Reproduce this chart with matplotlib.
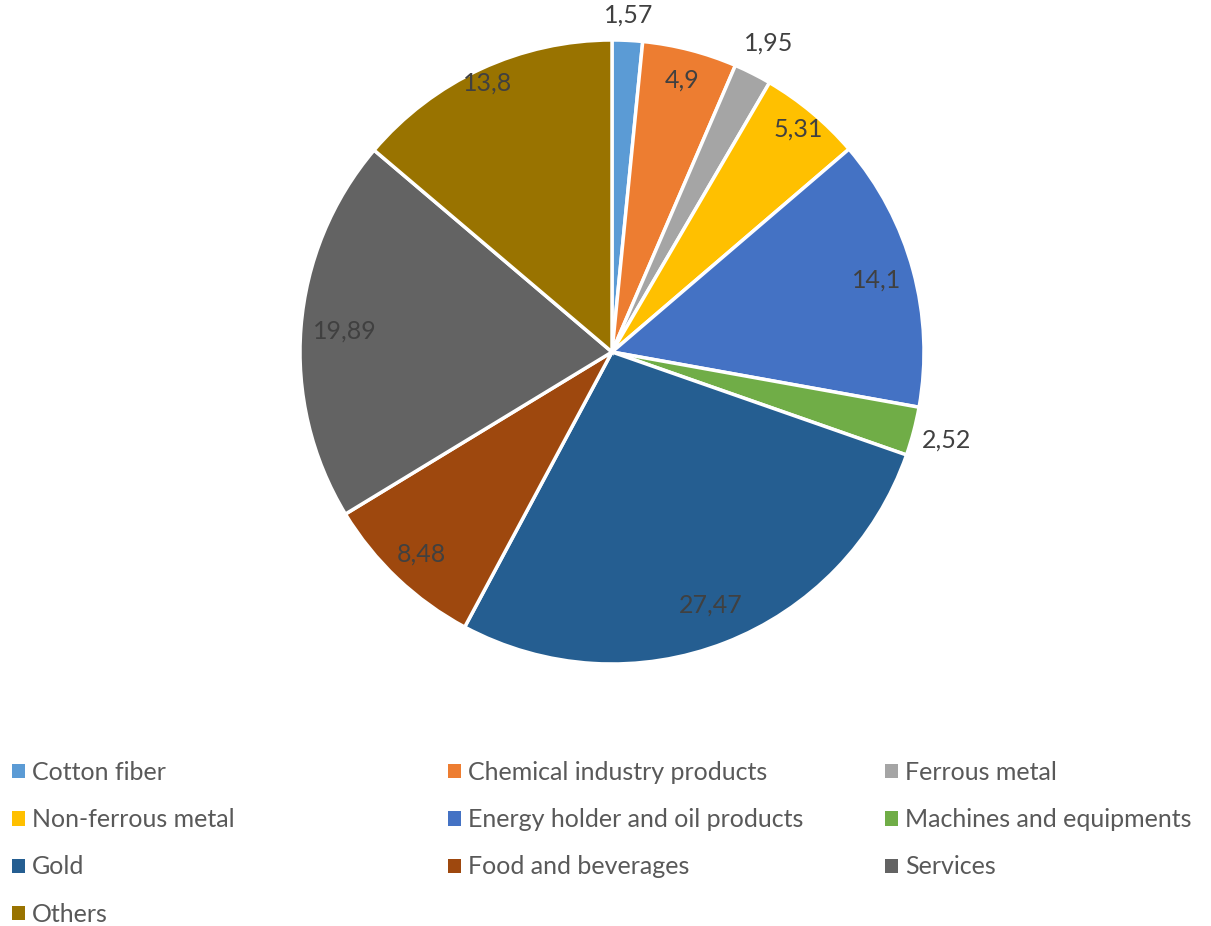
import numpy as np
import matplotlib.pyplot as plt
from matplotlib.patches import Patch

plt.rcParams['font.family'] = ['Lato', 'DejaVu Sans']

categories = ["Cotton fiber", "Chemical industry products", "Ferrous metal",
              "Non-ferrous metal", "Energy holder and oil products",
              "Machines and equipments", "Gold", "Food and beverages",
              "Services", "Others"]
values = [1.57, 4.9, 1.95, 5.31, 14.1, 2.52, 27.47, 8.48, 19.89, 13.8]
value_labels = ["1,57", "4,9", "1,95", "5,31", "14,1", "2,52", "27,47", "8,48", "19,89", "13,8"]
colors = ["#5B9BD5", "#ED7D31", "#A5A5A5", "#FFC000", "#4472C4",
          "#70AD47", "#255E91", "#9E480E", "#636363", "#997300"]
# label distance from centre (fraction of radius), like excel best fit
label_dist = [1.08, 0.90, 1.11, 0.93, 0.88, 1.11, 0.87, 0.89, 0.86, 0.95]

fig = plt.figure(figsize=(12.11, 9.26), dpi=100)
ax = fig.add_axes([300 / 1211, 1 - 664 / 926, 624 / 1211, 624 / 926])

wedges, _ = ax.pie(values, colors=colors, startangle=90, counterclock=False,
                   radius=1.0, wedgeprops=dict(edgecolor="white", linewidth=2.5))
ax.set_xlim(-1, 1)
ax.set_ylim(-1, 1)
ax.set_aspect("equal")
ax.axis("off")

for w, txt, d in zip(wedges, value_labels, label_dist):
    ang = np.deg2rad((w.theta1 + w.theta2) / 2)
    ax.text(d * np.cos(ang), d * np.sin(ang), txt, ha="center", va="center",
            fontsize=18, color="#404040", clip_on=False)

# legend laid out row-wise in 3 columns
col_x = [12 / 1211, 448 / 1211, 885 / 1211]
top_y = 1 - 761 / 926
for c in range(3):
    idx = list(range(c, len(categories), 3))
    handles = [Patch(facecolor=colors[i], edgecolor="none") for i in idx]
    labels = [categories[i] for i in idx]
    fig.legend(handles, labels, loc="upper left", bbox_to_anchor=(col_x[c], top_y),
               frameon=False, fontsize=18, labelcolor="#595959",
               handlelength=0.5, handleheight=0.5, handletextpad=0.3,
               labelspacing=0.97, borderaxespad=0, borderpad=0)

fig.savefig("out.png", dpi=100, facecolor="white")
